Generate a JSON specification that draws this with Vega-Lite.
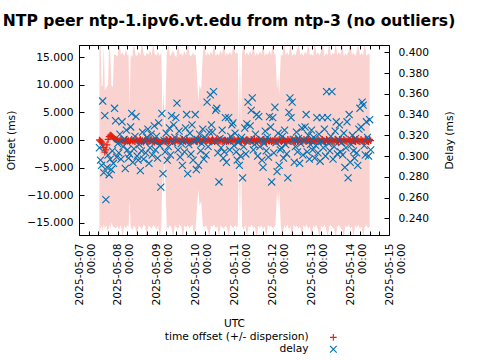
{
"$schema": "https://vega.github.io/schema/vega-lite/v6.json",
"width": 310, "height": 190, "autosize": "none",
"padding": {"left": 79, "top": 45, "right": 91, "bottom": 125},
"background": "white",
"title": {"text": "NTP peer ntp-1.ipv6.vt.edu from ntp-3 (no outliers)", "font": "DejaVu Sans", "fontSize": 15.6, "fontWeight": "bold", "color": "black", "anchor": "middle", "frame": "group", "offset": 15, "dx": -5},
"config": {
  "view": {"stroke": "black", "strokeWidth": 1},
  "axis": {"labelFont": "DejaVu Sans", "titleFont": "DejaVu Sans", "labelFontSize": 10.67, "titleFontSize": 10.67, "titleFontWeight": "normal", "labelColor": "black", "titleColor": "black", "tickColor": "black", "grid": false, "domain": false},
  "legend": {"labelFont": "DejaVu Sans", "labelFontSize": 10.67, "labelColor": "black"}
},
"datasets": {
"band": [
{"t":"2025-05-07T12:40Z","h":17.5,"l":-17.5},{"t":"2025-05-07T13:20Z","h":17.5,"l":-16.0},{"t":"2025-05-07T14:00Z","h":9.5,"l":-15.5},{"t":"2025-05-07T14:40Z","h":10,"l":-16.5},{"t":"2025-05-07T15:20Z","h":17.3,"l":-15.2},{"t":"2025-05-07T16:00Z","h":9,"l":-16.0},{"t":"2025-05-07T17:00Z","h":9.5,"l":-15.5},{"t":"2025-05-07T18:00Z","h":10,"l":-16.8},{"t":"2025-05-07T18:40Z","h":17.3,"l":-15.4},{"t":"2025-05-07T19:20Z","h":16,"l":-16.2},{"t":"2025-05-07T20:00Z","h":10,"l":-15.0},{"t":"2025-05-07T21:00Z","h":9.5,"l":-15.6},{"t":"2025-05-07T21:40Z","h":15.5,"l":-15.8},{"t":"2025-05-07T22:40Z","h":15.4,"l":-16.0},
{"t":"2025-05-08T00:00Z","h":15.2,"l":-15.6},{"t":"2025-05-08T01:00Z","h":17.8,"l":-16.2},{"t":"2025-05-08T02:00Z","h":15.4,"l":-15.3},{"t":"2025-05-08T03:00Z","h":15.9,"l":-17.8},{"t":"2025-05-08T04:00Z","h":15.1,"l":-15.5},{"t":"2025-05-08T05:00Z","h":16.4,"l":-16.0},{"t":"2025-05-08T06:00Z","h":15.3,"l":-15.4},{"t":"2025-05-08T06:40Z","h":15.6,"l":-15.8},{"t":"2025-05-08T07:20Z","h":6,"l":-11},{"t":"2025-05-08T08:00Z","h":15.5,"l":-15.7},{"t":"2025-05-08T09:00Z","h":15.0,"l":-16.3},{"t":"2025-05-08T10:00Z","h":17.6,"l":-15.5},{"t":"2025-05-08T11:00Z","h":15.4,"l":-15.9},{"t":"2025-05-08T12:00Z","h":15.2,"l":-17.6},{"t":"2025-05-08T13:00Z","h":16.0,"l":-15.4},{"t":"2025-05-08T14:00Z","h":15.3,"l":-15.8},{"t":"2025-05-08T15:00Z","h":18.0,"l":-16.1},{"t":"2025-05-08T16:00Z","h":15.6,"l":-15.3},{"t":"2025-05-08T17:00Z","h":15.1,"l":-15.6},{"t":"2025-05-08T18:00Z","h":15.8,"l":-17.9},{"t":"2025-05-08T19:00Z","h":15.4,"l":-15.5},{"t":"2025-05-08T20:00Z","h":16.3,"l":-15.8},{"t":"2025-05-08T21:00Z","h":15.2,"l":-16.0},{"t":"2025-05-08T22:00Z","h":17.7,"l":-15.4},{"t":"2025-05-08T23:00Z","h":15.5,"l":-15.7},
{"t":"2025-05-09T00:00Z","h":15.3,"l":-16.2},{"t":"2025-05-09T01:00Z","h":15.9,"l":-15.5},{"t":"2025-05-09T02:00Z","h":15.2,"l":-17.7},{"t":"2025-05-09T03:00Z","h":15.8,"l":-15.6},{"t":"2025-05-09T03:40Z","h":4,"l":-6},{"t":"2025-05-09T04:20Z","h":9,"l":-10},{"t":"2025-05-09T05:00Z","h":1.5,"l":-3},{"t":"2025-05-09T05:40Z","h":7,"l":-9},{"t":"2025-05-09T06:20Z","h":15.4,"l":-15.7},{"t":"2025-05-09T07:20Z","h":17.8,"l":-16.0},{"t":"2025-05-09T08:20Z","h":15.1,"l":-15.4},{"t":"2025-05-09T09:20Z","h":15.6,"l":-15.9},{"t":"2025-05-09T10:20Z","h":16.2,"l":-17.6},{"t":"2025-05-09T11:20Z","h":15.3,"l":-15.5},{"t":"2025-05-09T12:20Z","h":15.0,"l":-15.8},{"t":"2025-05-09T13:20Z","h":17.5,"l":-16.1},{"t":"2025-05-09T14:20Z","h":15.4,"l":-15.3},{"t":"2025-05-09T15:20Z","h":15.7,"l":-15.6},{"t":"2025-05-09T16:20Z","h":15.2,"l":-17.8},{"t":"2025-05-09T17:20Z","h":16.1,"l":-15.5},{"t":"2025-05-09T18:20Z","h":15.3,"l":-15.9},{"t":"2025-05-09T19:20Z","h":17.9,"l":-15.4},{"t":"2025-05-09T20:20Z","h":15.5,"l":-16.0},{"t":"2025-05-09T21:20Z","h":15.1,"l":-15.6},{"t":"2025-05-09T22:20Z","h":15.8,"l":-15.3},{"t":"2025-05-09T23:20Z","h":15.4,"l":-17.5},
{"t":"2025-05-10T00:20Z","h":15.5,"l":-15.7},{"t":"2025-05-10T01:20Z","h":10,"l":-11},{"t":"2025-05-10T02:00Z","h":7,"l":-9},{"t":"2025-05-10T02:40Z","h":10,"l":-12},{"t":"2025-05-10T03:40Z","h":9,"l":-11},{"t":"2025-05-10T04:40Z","h":15.6,"l":-15.5},{"t":"2025-05-10T05:40Z","h":17.7,"l":-15.9},{"t":"2025-05-10T06:40Z","h":15.2,"l":-15.4},{"t":"2025-05-10T07:40Z","h":15.9,"l":-16.3},{"t":"2025-05-10T08:40Z","h":15.3,"l":-17.8},{"t":"2025-05-10T09:40Z","h":16.0,"l":-15.5},{"t":"2025-05-10T10:40Z","h":15.4,"l":-15.7},{"t":"2025-05-10T11:40Z","h":17.6,"l":-15.3},{"t":"2025-05-10T12:40Z","h":15.1,"l":-16.0},{"t":"2025-05-10T13:40Z","h":15.7,"l":-15.6},{"t":"2025-05-10T14:40Z","h":15.3,"l":-17.7},{"t":"2025-05-10T15:40Z","h":16.2,"l":-15.4},{"t":"2025-05-10T16:40Z","h":15.5,"l":-15.8},{"t":"2025-05-10T17:40Z","h":17.9,"l":-16.1},{"t":"2025-05-10T18:40Z","h":15.2,"l":-15.5},{"t":"2025-05-10T19:40Z","h":15.8,"l":-15.9},{"t":"2025-05-10T20:40Z","h":15.4,"l":-17.6},{"t":"2025-05-10T21:40Z","h":16.0,"l":-15.3},{"t":"2025-05-10T22:40Z","h":15.3,"l":-15.7},{"t":"2025-05-10T23:40Z","h":17.5,"l":-16.0},
{"t":"2025-05-11T00:40Z","h":15.6,"l":-15.4},{"t":"2025-05-11T01:40Z","h":15.8,"l":-15.9},{"t":"2025-05-11T02:20Z","h":15.6,"l":-15.5},{"t":"2025-05-11T03:00Z","h":1,"l":-2},{"t":"2025-05-11T03:40Z","h":15.5,"l":-15.3},{"t":"2025-05-11T04:20Z","h":2,"l":-3},{"t":"2025-05-11T05:00Z","h":15.5,"l":-15.6},{"t":"2025-05-11T06:00Z","h":17.8,"l":-16.2},{"t":"2025-05-11T07:00Z","h":15.2,"l":-15.4},{"t":"2025-05-11T08:00Z","h":15.9,"l":-17.5},{"t":"2025-05-11T09:00Z","h":15.3,"l":-15.6},{"t":"2025-05-11T10:00Z","h":16.1,"l":-15.8},{"t":"2025-05-11T11:00Z","h":15.4,"l":-15.3},{"t":"2025-05-11T12:00Z","h":17.7,"l":-16.0},{"t":"2025-05-11T13:00Z","h":15.1,"l":-15.7},{"t":"2025-05-11T14:00Z","h":15.8,"l":-17.8},{"t":"2025-05-11T15:00Z","h":15.3,"l":-15.5},{"t":"2025-05-11T16:00Z","h":16.0,"l":-15.9},{"t":"2025-05-11T17:00Z","h":15.5,"l":-15.4},{"t":"2025-05-11T18:00Z","h":17.9,"l":-16.1},{"t":"2025-05-11T19:00Z","h":15.2,"l":-15.6},{"t":"2025-05-11T20:00Z","h":15.7,"l":-17.6},{"t":"2025-05-11T21:00Z","h":15.4,"l":-15.3},{"t":"2025-05-11T22:00Z","h":16.2,"l":-15.8},{"t":"2025-05-11T23:00Z","h":15.3,"l":-15.5},
{"t":"2025-05-12T00:00Z","h":17.6,"l":-16.0},{"t":"2025-05-12T01:00Z","h":15.5,"l":-15.7},{"t":"2025-05-12T01:40Z","h":15.6,"l":-15.4},{"t":"2025-05-12T02:40Z","h":9,"l":-9},{"t":"2025-05-12T03:20Z","h":12,"l":-12},{"t":"2025-05-12T04:00Z","h":8,"l":-9},{"t":"2025-05-12T05:00Z","h":15.5,"l":-15.6},{"t":"2025-05-12T06:00Z","h":15.2,"l":-17.7},{"t":"2025-05-12T07:00Z","h":17.8,"l":-15.5},{"t":"2025-05-12T08:00Z","h":15.4,"l":-15.9},{"t":"2025-05-12T09:00Z","h":15.9,"l":-15.3},{"t":"2025-05-12T10:00Z","h":15.3,"l":-16.2},{"t":"2025-05-12T11:00Z","h":17.5,"l":-15.6},{"t":"2025-05-12T12:00Z","h":15.1,"l":-17.8},{"t":"2025-05-12T13:00Z","h":15.7,"l":-15.4},{"t":"2025-05-12T14:00Z","h":15.3,"l":-15.8},{"t":"2025-05-12T15:00Z","h":16.1,"l":-15.5},{"t":"2025-05-12T16:00Z","h":17.9,"l":-16.0},{"t":"2025-05-12T17:00Z","h":15.4,"l":-15.7},{"t":"2025-05-12T18:00Z","h":15.8,"l":-17.5},{"t":"2025-05-12T19:00Z","h":15.2,"l":-15.4},{"t":"2025-05-12T20:00Z","h":16.0,"l":-15.9},{"t":"2025-05-12T21:00Z","h":15.5,"l":-15.3},{"t":"2025-05-12T22:00Z","h":17.7,"l":-16.1},{"t":"2025-05-12T23:00Z","h":15.3,"l":-15.6},
{"t":"2025-05-13T00:00Z","h":15.6,"l":-17.6},{"t":"2025-05-13T01:00Z","h":15.2,"l":-15.5},{"t":"2025-05-13T02:00Z","h":17.8,"l":-15.8},{"t":"2025-05-13T03:00Z","h":15.4,"l":-15.4},{"t":"2025-05-13T04:00Z","h":15.9,"l":-16.2},{"t":"2025-05-13T05:00Z","h":15.3,"l":-17.7},{"t":"2025-05-13T06:00Z","h":16.2,"l":-15.5},{"t":"2025-05-13T07:00Z","h":17.5,"l":-15.9},{"t":"2025-05-13T08:00Z","h":15.1,"l":-15.3},{"t":"2025-05-13T09:00Z","h":15.7,"l":-16.0},{"t":"2025-05-13T10:00Z","h":15.4,"l":-17.8},{"t":"2025-05-13T11:00Z","h":17.9,"l":-15.6},{"t":"2025-05-13T12:00Z","h":15.2,"l":-15.4},{"t":"2025-05-13T13:00Z","h":15.8,"l":-15.8},{"t":"2025-05-13T14:00Z","h":15.5,"l":-16.1},{"t":"2025-05-13T15:00Z","h":17.6,"l":-17.5},{"t":"2025-05-13T16:00Z","h":15.3,"l":-15.7},{"t":"2025-05-13T17:00Z","h":16.0,"l":-15.4},{"t":"2025-05-13T18:00Z","h":15.4,"l":-15.9},{"t":"2025-05-13T19:00Z","h":17.8,"l":-16.2},{"t":"2025-05-13T20:00Z","h":15.1,"l":-17.6},{"t":"2025-05-13T21:00Z","h":15.6,"l":-15.5},{"t":"2025-05-13T22:00Z","h":15.3,"l":-15.8},{"t":"2025-05-13T23:00Z","h":16.1,"l":-15.4},
{"t":"2025-05-14T00:00Z","h":17.7,"l":-16.0},{"t":"2025-05-14T01:00Z","h":15.4,"l":-15.7},{"t":"2025-05-14T02:00Z","h":15.8,"l":-17.8},{"t":"2025-05-14T03:00Z","h":15.2,"l":-15.5},{"t":"2025-05-14T04:00Z","h":16.0,"l":-15.9},{"t":"2025-05-14T05:00Z","h":17.5,"l":-15.3},{"t":"2025-05-14T06:00Z","h":15.3,"l":-16.1},{"t":"2025-05-14T07:00Z","h":15.7,"l":-15.6},{"t":"2025-05-14T08:00Z","h":15.4,"l":-17.5},{"t":"2025-05-14T09:00Z","h":17.9,"l":-15.8},{"t":"2025-05-14T10:00Z","h":15.2,"l":-15.4},{"t":"2025-05-14T11:00Z","h":15.6,"l":-16.0},{"t":"2025-05-14T12:00Z","h":15.5,"l":-15.7}
],
"pts": [
{"t":"2025-05-07T12:40Z","o":0.0,"d":0.308},{"t":"2025-05-07T13:20Z","o":-0.2,"d":0.296},{"t":"2025-05-07T14:00Z","o":-0.4,"d":0.291},{"t":"2025-05-07T14:40Z","o":-0.7,"d":0.353},{"t":"2025-05-07T15:20Z","o":-1.4,"d":0.284},{"t":"2025-05-07T16:00Z","o":-2.2,"d":0.339},{"t":"2025-05-07T16:40Z","o":-1.8,"d":0.258},{"t":"2025-05-07T17:20Z","o":-0.9,"d":0.289},{"t":"2025-05-07T18:00Z","o":0.1,"d":0.301},{"t":"2025-05-07T18:40Z","o":0.6,"d":0.282},{"t":"2025-05-07T19:20Z","o":0.9,"d":0.297},{"t":"2025-05-07T20:00Z","o":0.8,"d":0.287},{"t":"2025-05-07T20:40Z","o":0.6,"d":0.305},{"t":"2025-05-07T21:20Z","o":0.4,"d":0.293},{"t":"2025-05-07T22:00Z","o":0.2,"d":0.346},{"t":"2025-05-07T22:40Z","o":0.1,"d":0.334},{"t":"2025-05-07T23:20Z","o":0.0,"d":0.299},
{"t":"2025-05-08T00:00Z","o":-0.1,"d":0.312},{"t":"2025-05-08T00:40Z","o":-0.3,"d":0.303},{"t":"2025-05-08T01:20Z","o":-0.1,"d":0.321},{"t":"2025-05-08T02:00Z","o":0.1,"d":0.297},{"t":"2025-05-08T02:40Z","o":-0.2,"d":0.333},{"t":"2025-05-08T03:20Z","o":-0.1,"d":0.309},{"t":"2025-05-08T04:00Z","o":-0.4,"d":0.316},{"t":"2025-05-08T04:40Z","o":-0.1,"d":0.288},{"t":"2025-05-08T05:20Z","o":0.1,"d":0.325},{"t":"2025-05-08T06:00Z","o":-0.2,"d":0.306},{"t":"2025-05-08T06:40Z","o":-0.1,"d":0.298},{"t":"2025-05-08T07:20Z","o":-0.4,"d":0.302},{"t":"2025-05-08T08:00Z","o":-0.1,"d":0.328},{"t":"2025-05-08T08:40Z","o":0.1,"d":0.341},{"t":"2025-05-08T09:20Z","o":-0.2,"d":0.294},{"t":"2025-05-08T10:00Z","o":-0.1,"d":0.307},{"t":"2025-05-08T10:40Z","o":-0.3,"d":0.319},{"t":"2025-05-08T11:20Z","o":0.1,"d":0.338},{"t":"2025-05-08T12:00Z","o":-0.1,"d":0.300},{"t":"2025-05-08T12:40Z","o":-0.3,"d":0.296},{"t":"2025-05-08T13:20Z","o":-0.1,"d":0.311},{"t":"2025-05-08T14:00Z","o":0.1,"d":0.286},{"t":"2025-05-08T14:40Z","o":-0.2,"d":0.305},{"t":"2025-05-08T15:20Z","o":-0.1,"d":0.323},{"t":"2025-05-08T16:00Z","o":-0.4,"d":0.297},{"t":"2025-05-08T16:40Z","o":-0.1,"d":0.314},{"t":"2025-05-08T17:20Z","o":0.1,"d":0.303},{"t":"2025-05-08T18:00Z","o":-0.2,"d":0.318},{"t":"2025-05-08T18:40Z","o":-0.1,"d":0.326},{"t":"2025-05-08T19:20Z","o":-0.3,"d":0.293},{"t":"2025-05-08T20:00Z","o":-0.1,"d":0.308},{"t":"2025-05-08T20:40Z","o":0.1,"d":0.321},{"t":"2025-05-08T21:20Z","o":-0.2,"d":0.301},{"t":"2025-05-08T22:00Z","o":-0.1,"d":0.315},{"t":"2025-05-08T22:40Z","o":-0.4,"d":0.329},{"t":"2025-05-08T23:20Z","o":-0.1,"d":0.306},
{"t":"2025-05-09T00:00Z","o":-0.2,"d":0.319},{"t":"2025-05-09T00:40Z","o":-0.3,"d":0.298},{"t":"2025-05-09T01:20Z","o":-0.4,"d":0.332},{"t":"2025-05-09T02:00Z","o":-0.5,"d":0.310},{"t":"2025-05-09T02:40Z","o":-0.4,"d":0.270},{"t":"2025-05-09T03:20Z","o":-0.3,"d":0.341},{"t":"2025-05-09T04:00Z","o":-0.2,"d":0.283},{"t":"2025-05-09T04:40Z","o":-0.1,"d":0.315},{"t":"2025-05-09T05:20Z","o":-0.3,"d":0.304},{"t":"2025-05-09T06:00Z","o":0.1,"d":0.322},{"t":"2025-05-09T06:40Z","o":-0.1,"d":0.296},{"t":"2025-05-09T07:20Z","o":-0.3,"d":0.309},{"t":"2025-05-09T08:00Z","o":-0.1,"d":0.327},{"t":"2025-05-09T08:40Z","o":0.1,"d":0.301},{"t":"2025-05-09T09:20Z","o":-0.1,"d":0.339},{"t":"2025-05-09T10:00Z","o":-0.3,"d":0.313},{"t":"2025-05-09T10:40Z","o":-0.1,"d":0.330},{"t":"2025-05-09T11:20Z","o":-0.4,"d":0.318},{"t":"2025-05-09T12:00Z","o":-0.1,"d":0.337},{"t":"2025-05-09T12:40Z","o":0.1,"d":0.351},{"t":"2025-05-09T13:20Z","o":-0.2,"d":0.306},{"t":"2025-05-09T14:00Z","o":-0.1,"d":0.324},{"t":"2025-05-09T14:40Z","o":-0.3,"d":0.299},{"t":"2025-05-09T15:20Z","o":-0.1,"d":0.312},{"t":"2025-05-09T16:00Z","o":0.1,"d":0.291},{"t":"2025-05-09T16:40Z","o":-0.2,"d":0.317},{"t":"2025-05-09T17:20Z","o":-0.1,"d":0.304},{"t":"2025-05-09T18:00Z","o":-0.3,"d":0.327},{"t":"2025-05-09T18:40Z","o":0.0,"d":0.340},{"t":"2025-05-09T19:20Z","o":-0.1,"d":0.283},{"t":"2025-05-09T20:00Z","o":-0.3,"d":0.311},{"t":"2025-05-09T20:40Z","o":-0.1,"d":0.322},{"t":"2025-05-09T21:20Z","o":-0.4,"d":0.302},{"t":"2025-05-09T22:00Z","o":-0.1,"d":0.330},{"t":"2025-05-09T22:40Z","o":-0.2,"d":0.296},{"t":"2025-05-09T23:20Z","o":0.1,"d":0.314},
{"t":"2025-05-10T00:00Z","o":-0.1,"d":0.340},{"t":"2025-05-10T00:40Z","o":-0.3,"d":0.287},{"t":"2025-05-10T01:20Z","o":-0.1,"d":0.316},{"t":"2025-05-10T02:00Z","o":0.1,"d":0.291},{"t":"2025-05-10T02:40Z","o":-0.2,"d":0.321},{"t":"2025-05-10T03:20Z","o":-0.1,"d":0.305},{"t":"2025-05-10T04:00Z","o":-0.3,"d":0.312},{"t":"2025-05-10T04:40Z","o":-0.1,"d":0.326},{"t":"2025-05-10T05:20Z","o":0.1,"d":0.297},{"t":"2025-05-10T06:00Z","o":-0.1,"d":0.318},{"t":"2025-05-10T06:40Z","o":-0.3,"d":0.301},{"t":"2025-05-10T07:20Z","o":-0.1,"d":0.352},{"t":"2025-05-10T08:00Z","o":0.1,"d":0.309},{"t":"2025-05-10T08:40Z","o":-0.1,"d":0.323},{"t":"2025-05-10T09:20Z","o":-0.3,"d":0.359},{"t":"2025-05-10T10:00Z","o":-0.1,"d":0.330},{"t":"2025-05-10T10:40Z","o":0.1,"d":0.323},{"t":"2025-05-10T11:20Z","o":-0.1,"d":0.362},{"t":"2025-05-10T12:00Z","o":-0.3,"d":0.314},{"t":"2025-05-10T12:40Z","o":-0.1,"d":0.344},{"t":"2025-05-10T13:20Z","o":0.1,"d":0.346},{"t":"2025-05-10T14:00Z","o":-0.2,"d":0.303},{"t":"2025-05-10T14:40Z","o":-0.1,"d":0.275},{"t":"2025-05-10T15:20Z","o":-0.2,"d":0.317},{"t":"2025-05-10T16:00Z","o":0.1,"d":0.308},{"t":"2025-05-10T16:40Z","o":-0.3,"d":0.325},{"t":"2025-05-10T17:20Z","o":-0.1,"d":0.298},{"t":"2025-05-10T18:00Z","o":-0.2,"d":0.304},{"t":"2025-05-10T18:40Z","o":0.0,"d":0.337},{"t":"2025-05-10T19:20Z","o":-0.3,"d":0.294},{"t":"2025-05-10T20:00Z","o":-0.1,"d":0.315},{"t":"2025-05-10T20:40Z","o":-0.2,"d":0.337},{"t":"2025-05-10T21:20Z","o":0.1,"d":0.306},{"t":"2025-05-10T22:00Z","o":-0.2,"d":0.319},{"t":"2025-05-10T22:40Z","o":-0.1,"d":0.330},{"t":"2025-05-10T23:20Z","o":-0.2,"d":0.332},
{"t":"2025-05-11T00:00Z","o":0.1,"d":0.310},{"t":"2025-05-11T00:40Z","o":-0.1,"d":0.322},{"t":"2025-05-11T01:20Z","o":-0.3,"d":0.304},{"t":"2025-05-11T02:00Z","o":-0.1,"d":0.296},{"t":"2025-05-11T02:40Z","o":0.1,"d":0.313},{"t":"2025-05-11T03:20Z","o":-0.1,"d":0.291},{"t":"2025-05-11T04:00Z","o":-0.3,"d":0.300},{"t":"2025-05-11T04:40Z","o":-0.1,"d":0.318},{"t":"2025-05-11T05:20Z","o":0.1,"d":0.279},{"t":"2025-05-11T06:00Z","o":-0.1,"d":0.309},{"t":"2025-05-11T06:40Z","o":-0.3,"d":0.327},{"t":"2025-05-11T07:20Z","o":-0.1,"d":0.302},{"t":"2025-05-11T08:00Z","o":0.1,"d":0.331},{"t":"2025-05-11T08:40Z","o":-0.1,"d":0.352},{"t":"2025-05-11T09:20Z","o":-0.2,"d":0.315},{"t":"2025-05-11T10:00Z","o":-0.3,"d":0.329},{"t":"2025-05-11T10:40Z","o":0.1,"d":0.344},{"t":"2025-05-11T11:20Z","o":-0.1,"d":0.356},{"t":"2025-05-11T12:00Z","o":-0.2,"d":0.306},{"t":"2025-05-11T12:40Z","o":0.1,"d":0.311},{"t":"2025-05-11T13:20Z","o":-0.3,"d":0.321},{"t":"2025-05-11T14:00Z","o":-0.1,"d":0.340},{"t":"2025-05-11T14:40Z","o":-0.2,"d":0.300},{"t":"2025-05-11T15:20Z","o":0.1,"d":0.338},{"t":"2025-05-11T16:00Z","o":-0.1,"d":0.309},{"t":"2025-05-11T16:40Z","o":-0.3,"d":0.316},{"t":"2025-05-11T17:20Z","o":-0.1,"d":0.296},{"t":"2025-05-11T18:00Z","o":0.1,"d":0.289},{"t":"2025-05-11T18:40Z","o":-0.1,"d":0.312},{"t":"2025-05-11T19:20Z","o":-0.2,"d":0.324},{"t":"2025-05-11T20:00Z","o":-0.3,"d":0.305},{"t":"2025-05-11T20:40Z","o":0.1,"d":0.318},{"t":"2025-05-11T21:20Z","o":-0.1,"d":0.299},{"t":"2025-05-11T22:00Z","o":-0.2,"d":0.338},{"t":"2025-05-11T22:40Z","o":0.0,"d":0.328},{"t":"2025-05-11T23:20Z","o":-0.3,"d":0.275},
{"t":"2025-05-12T00:00Z","o":-0.1,"d":0.337},{"t":"2025-05-12T00:40Z","o":-0.2,"d":0.303},{"t":"2025-05-12T01:20Z","o":0.1,"d":0.347},{"t":"2025-05-12T02:00Z","o":-0.3,"d":0.313},{"t":"2025-05-12T02:40Z","o":-0.1,"d":0.285},{"t":"2025-05-12T03:20Z","o":-0.2,"d":0.322},{"t":"2025-05-12T04:00Z","o":0.1,"d":0.291},{"t":"2025-05-12T04:40Z","o":-0.1,"d":0.306},{"t":"2025-05-12T05:20Z","o":-0.3,"d":0.308},{"t":"2025-05-12T06:00Z","o":-0.1,"d":0.319},{"t":"2025-05-12T06:40Z","o":0.1,"d":0.298},{"t":"2025-05-12T07:20Z","o":-0.1,"d":0.325},{"t":"2025-05-12T08:00Z","o":-0.2,"d":0.311},{"t":"2025-05-12T08:40Z","o":-0.3,"d":0.302},{"t":"2025-05-12T09:20Z","o":0.1,"d":0.279},{"t":"2025-05-12T10:00Z","o":-0.1,"d":0.342},{"t":"2025-05-12T10:40Z","o":-0.2,"d":0.356},{"t":"2025-05-12T11:20Z","o":-0.3,"d":0.337},{"t":"2025-05-12T12:00Z","o":0.1,"d":0.352},{"t":"2025-05-12T12:40Z","o":-0.1,"d":0.316},{"t":"2025-05-12T13:20Z","o":-0.2,"d":0.294},{"t":"2025-05-12T14:00Z","o":-0.3,"d":0.309},{"t":"2025-05-12T14:40Z","o":0.1,"d":0.323},{"t":"2025-05-12T15:20Z","o":-0.1,"d":0.304},{"t":"2025-05-12T16:00Z","o":-0.2,"d":0.317},{"t":"2025-05-12T16:40Z","o":0.1,"d":0.293},{"t":"2025-05-12T17:20Z","o":-0.3,"d":0.312},{"t":"2025-05-12T18:00Z","o":-0.1,"d":0.327},{"t":"2025-05-12T18:40Z","o":-0.2,"d":0.301},{"t":"2025-05-12T19:20Z","o":0.1,"d":0.315},{"t":"2025-05-12T20:00Z","o":-0.1,"d":0.328},{"t":"2025-05-12T20:40Z","o":-0.3,"d":0.340},{"t":"2025-05-12T21:20Z","o":-0.1,"d":0.304},{"t":"2025-05-12T22:00Z","o":0.1,"d":0.320},{"t":"2025-05-12T22:40Z","o":-0.2,"d":0.297},{"t":"2025-05-12T23:20Z","o":-0.1,"d":0.311},
{"t":"2025-05-13T00:00Z","o":-0.3,"d":0.325},{"t":"2025-05-13T00:40Z","o":-0.1,"d":0.306},{"t":"2025-05-13T01:20Z","o":0.1,"d":0.318},{"t":"2025-05-13T02:00Z","o":-0.1,"d":0.298},{"t":"2025-05-13T02:40Z","o":-0.2,"d":0.310},{"t":"2025-05-13T03:20Z","o":-0.3,"d":0.337},{"t":"2025-05-13T04:00Z","o":0.1,"d":0.303},{"t":"2025-05-13T04:40Z","o":-0.1,"d":0.321},{"t":"2025-05-13T05:20Z","o":-0.2,"d":0.295},{"t":"2025-05-13T06:00Z","o":-0.3,"d":0.314},{"t":"2025-05-13T06:40Z","o":0.1,"d":0.337},{"t":"2025-05-13T07:20Z","o":-0.1,"d":0.308},{"t":"2025-05-13T08:00Z","o":-0.2,"d":0.326},{"t":"2025-05-13T08:40Z","o":-0.3,"d":0.300},{"t":"2025-05-13T09:20Z","o":0.1,"d":0.362},{"t":"2025-05-13T10:00Z","o":-0.1,"d":0.337},{"t":"2025-05-13T10:40Z","o":-0.2,"d":0.312},{"t":"2025-05-13T11:20Z","o":-0.3,"d":0.305},{"t":"2025-05-13T12:00Z","o":0.1,"d":0.319},{"t":"2025-05-13T12:40Z","o":-0.1,"d":0.362},{"t":"2025-05-13T13:20Z","o":-0.2,"d":0.297},{"t":"2025-05-13T14:00Z","o":-0.3,"d":0.309},{"t":"2025-05-13T14:40Z","o":0.1,"d":0.324},{"t":"2025-05-13T15:20Z","o":-0.1,"d":0.333},{"t":"2025-05-13T16:00Z","o":-0.2,"d":0.302},{"t":"2025-05-13T16:40Z","o":-0.3,"d":0.316},{"t":"2025-05-13T17:20Z","o":0.1,"d":0.330},{"t":"2025-05-13T18:00Z","o":-0.1,"d":0.304},{"t":"2025-05-13T18:40Z","o":-0.2,"d":0.313},{"t":"2025-05-13T19:20Z","o":-0.3,"d":0.301},{"t":"2025-05-13T20:00Z","o":0.1,"d":0.322},{"t":"2025-05-13T20:40Z","o":-0.1,"d":0.289},{"t":"2025-05-13T21:20Z","o":-0.2,"d":0.308},{"t":"2025-05-13T22:00Z","o":-0.3,"d":0.333},{"t":"2025-05-13T22:40Z","o":0.1,"d":0.279},{"t":"2025-05-13T23:20Z","o":-0.1,"d":0.340},
{"t":"2025-05-14T00:00Z","o":-0.2,"d":0.294},{"t":"2025-05-14T00:40Z","o":-0.3,"d":0.311},{"t":"2025-05-14T01:20Z","o":0.1,"d":0.320},{"t":"2025-05-14T02:00Z","o":-0.1,"d":0.305},{"t":"2025-05-14T02:40Z","o":-0.2,"d":0.298},{"t":"2025-05-14T03:20Z","o":-0.3,"d":0.317},{"t":"2025-05-14T04:00Z","o":0.1,"d":0.303},{"t":"2025-05-14T04:40Z","o":-0.1,"d":0.291},{"t":"2025-05-14T05:20Z","o":-0.2,"d":0.326},{"t":"2025-05-14T06:00Z","o":-0.3,"d":0.346},{"t":"2025-05-14T06:40Z","o":0.1,"d":0.328},{"t":"2025-05-14T07:20Z","o":-0.1,"d":0.352},{"t":"2025-05-14T08:00Z","o":-0.2,"d":0.349},{"t":"2025-05-14T08:40Z","o":-0.3,"d":0.310},{"t":"2025-05-14T09:20Z","o":0.1,"d":0.301},{"t":"2025-05-14T10:00Z","o":-0.1,"d":0.333},{"t":"2025-05-14T10:40Z","o":-0.2,"d":0.318},{"t":"2025-05-14T11:20Z","o":-0.3,"d":0.300},{"t":"2025-05-14T12:00Z","o":0.1,"d":0.335},{"t":"2025-05-14T12:40Z","o":-0.1,"d":0.306}
]
},
"layer": [
{
  "data": {"name": "band"},
  "mark": {"type": "area", "clip": true, "color": "#e51e10", "opacity": 0.2, "interpolate": "linear"},
  "encoding": {
    "x": {"field": "t", "type": "temporal", "scale": {"type": "utc", "domain": [1746576000000, 1747267200000], "nice": false},
      "axis": {"orient": "bottom", "title": "UTC", "values": [1746576000000,1746597600000,1746619200000,1746640800000,1746662400000,1746684000000,1746705600000,1746727200000,1746748800000,1746770400000,1746792000000,1746813600000,1746835200000,1746856800000,1746878400000,1746900000000,1746921600000,1746943200000,1746964800000,1746986400000,1747008000000,1747029600000,1747051200000,1747072800000,1747094400000,1747116000000,1747137600000,1747159200000,1747180800000,1747202400000,1747224000000,1747245600000,1747267200000],
        "labelExpr": "utchours(datum.value) == 0 ? [utcFormat(datum.value, '%Y-%m-%d'), utcFormat(datum.value, '%H:%M')] : ''",
        "labelAngle": 270, "labelAlign": "right", "labelBaseline": "middle", "labelLineHeight": 12, "labelOverlap": false, "labelFlush": false,
        "tickSize": -4, "labelPadding": 12, "titlePadding": 14}},
    "y": {"field": "h", "type": "quantitative", "scale": {"domain": [-17.2, 17.2], "nice": false, "zero": false},
      "axis": {"orient": "left", "title": "Offset (ms)", "values": [-15, -10, -5, 0, 5, 10, 15], "format": ".3f", "tickSize": -5, "labelPadding": 11, "titlePadding": 10}},
    "y2": {"field": "l"}
  }
},
{
  "data": {"name": "pts"},
  "mark": {"type": "point", "filled": false, "strokeWidth": 1.3, "size": 45, "opacity": 1, "clip": true},
  "encoding": {
    "x": {"field": "t", "type": "temporal", "scale": {"type": "utc", "domain": [1746576000000, 1747267200000], "nice": false},
      "axis": {"orient": "top", "title": null, "labels": false, "tickSize": -4, "values": [1746576000000,1746597600000,1746619200000,1746640800000,1746662400000,1746684000000,1746705600000,1746727200000,1746748800000,1746770400000,1746792000000,1746813600000,1746835200000,1746856800000,1746878400000,1746900000000,1746921600000,1746943200000,1746964800000,1746986400000,1747008000000,1747029600000,1747051200000,1747072800000,1747094400000,1747116000000,1747137600000,1747159200000,1747180800000,1747202400000,1747224000000,1747245600000,1747267200000]}},
    "y": {"field": "o", "type": "quantitative", "scale": {"domain": [-17.2, 17.2], "nice": false, "zero": false}, "axis": null},
    "color": {"datum": "time offset (+/- dispersion)",
      "scale": {"domain": ["time offset (+/- dispersion)", "delay"], "range": ["#e51e10", "#0072b2"]},
      "legend": {"orient": "none", "legendX": 232, "legendY": 287, "title": null, "labelAlign": "right", "labelOffset": -30, "symbolOffset": 17, "symbolSize": 45, "symbolStrokeWidth": 1.1, "rowPadding": 0, "labelLimit": 0}},
    "shape": {"datum": "time offset (+/- dispersion)",
      "scale": {"domain": ["time offset (+/- dispersion)", "delay"], "range": ["M-1,0L1,0M0,-1L0,1", "M-1,-1L1,1M-1,1L1,-1"]},
      "legend": {"orient": "none", "legendX": 232, "legendY": 287, "title": null, "labelAlign": "right", "labelOffset": -30, "symbolOffset": 17, "symbolSize": 45, "symbolStrokeWidth": 1.1, "rowPadding": 0, "labelLimit": 0}}
  }
},
{
  "data": {"name": "pts"},
  "mark": {"type": "point", "filled": false, "strokeWidth": 1.1, "size": 50, "opacity": 1, "clip": true},
  "encoding": {
    "x": {"field": "t", "type": "temporal", "scale": {"type": "utc", "domain": [1746576000000, 1747267200000], "nice": false}, "axis": null},
    "y": {"field": "d", "type": "quantitative", "scale": {"domain": [0.2239, 0.407], "nice": false, "zero": false},
      "axis": {"orient": "right", "title": "Delay (ms)", "values": [0.24, 0.26, 0.28, 0.30, 0.32, 0.34, 0.36, 0.38, 0.40], "format": ".3f", "tickSize": -5, "labelPadding": 14, "titleAngle": 270, "titleBaseline": "top", "titlePadding": 16}},
    "color": {"datum": "delay"},
    "shape": {"datum": "delay"}
  }
}
],
"resolve": {"scale": {"y": "independent"}, "axis": {"x": "independent", "y": "independent"}}
}
